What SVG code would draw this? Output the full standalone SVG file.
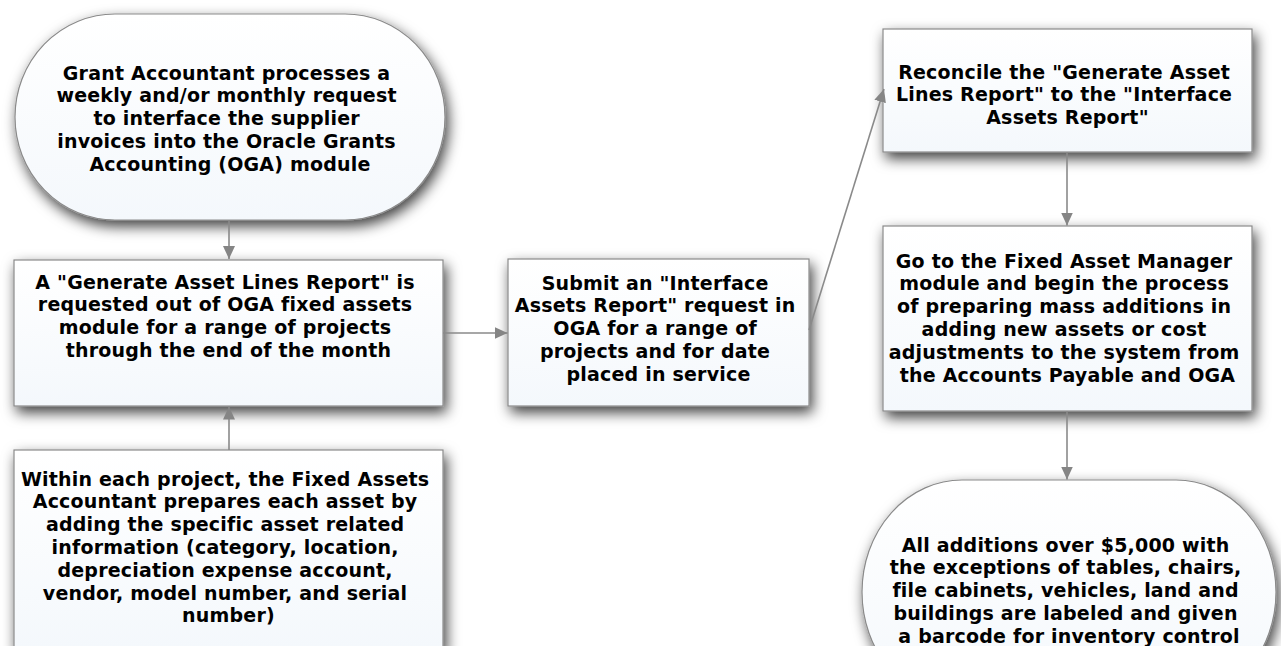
<svg xmlns="http://www.w3.org/2000/svg" width="1281" height="646" viewBox="0 0 1281 646">
  <defs>
    <linearGradient id="fillGrad" x1="0" y1="0" x2="0" y2="1">
      <stop offset="0" stop-color="#ffffff"/>
      <stop offset="1" stop-color="#f4f8fc"/>
    </linearGradient>
    <filter id="shadow" x="-20%" y="-30%" width="145%" height="170%">
      <feDropShadow dx="3" dy="6" stdDeviation="7" flood-color="#000000" flood-opacity="0.75"/>
    </filter>
    <marker id="arrow" markerUnits="userSpaceOnUse" markerWidth="13" markerHeight="12" refX="13" refY="6" orient="auto">
      <path d="M0,0 L13,6 L0,12 z" fill="#858585"/>
    </marker>
    <style>
      .node { fill: url(#fillGrad); stroke: #8a8a8a; stroke-width: 1.2; filter: url(#shadow); }
      .label { font-family: "DejaVu Sans", Verdana, sans-serif; font-weight: bold; font-size: 19px; letter-spacing: 0.2px; fill: #000000; text-anchor: middle; }
      .conn { stroke: #8a8a8a; stroke-width: 1.6; fill: none; marker-end: url(#arrow); }
    </style>
  </defs>

  <g id="node-grant-accountant">
    <rect class="node" x="15" y="14" width="430" height="206" rx="100" ry="103"/>
    <text class="label" x="230" y="79.5">
      <tspan x="230">Grant Accountant processes a</tspan>
      <tspan x="230" dy="22.8">weekly and/or monthly request</tspan>
      <tspan x="230" dy="22.8">to interface the supplier</tspan>
      <tspan x="230" dy="22.8">invoices into the Oracle Grants</tspan>
      <tspan x="230" dy="22.8">Accounting (OGA) module</tspan>
    </text>
  </g>

  <g id="node-generate-report">
    <rect class="node" x="14" y="260" width="429" height="146"/>
    <text class="label" x="228.5" y="288.5">
      <tspan x="228.5">A "Generate Asset Lines Report" is</tspan>
      <tspan x="228.5" dy="22.8">requested out of OGA fixed assets</tspan>
      <tspan x="228.5" dy="22.8">module for a range of projects</tspan>
      <tspan x="228.5" dy="22.8">through the end of the month</tspan>
    </text>
  </g>

  <g id="node-prepare-asset">
    <rect class="node" x="14" y="450" width="429" height="200"/>
    <text class="label" x="228.5" y="485.5">
      <tspan x="228.5">Within each project, the Fixed Assets</tspan>
      <tspan x="228.5" dy="22.8">Accountant prepares each asset by</tspan>
      <tspan x="228.5" dy="22.8">adding the specific asset related</tspan>
      <tspan x="228.5" dy="22.8">information (category, location,</tspan>
      <tspan x="228.5" dy="22.8">depreciation expense account,</tspan>
      <tspan x="228.5" dy="22.8">vendor, model number, and serial</tspan>
      <tspan x="228.5" dy="22.8">number)</tspan>
    </text>
  </g>

  <g id="node-submit-interface">
    <rect class="node" x="508" y="259" width="301" height="147"/>
    <text class="label" x="658.5" y="289.5">
      <tspan x="658.5">Submit an "Interface</tspan>
      <tspan x="658.5" dy="22.8">Assets Report" request in</tspan>
      <tspan x="658.5" dy="22.8">OGA for a range of</tspan>
      <tspan x="658.5" dy="22.8">projects and for date</tspan>
      <tspan x="658.5" dy="22.8">placed in service</tspan>
    </text>
  </g>

  <g id="node-reconcile">
    <rect class="node" x="883" y="29" width="369" height="123"/>
    <text class="label" x="1067.5" y="78.5">
      <tspan x="1067.5">Reconcile the "Generate Asset</tspan>
      <tspan x="1067.5" dy="22.8">Lines Report" to the "Interface</tspan>
      <tspan x="1067.5" dy="22.8">Assets Report"</tspan>
    </text>
  </g>

  <g id="node-fixed-asset-manager">
    <rect class="node" x="883" y="226" width="369" height="185"/>
    <text class="label" x="1067.5" y="267.5">
      <tspan x="1067.5">Go to the Fixed Asset Manager</tspan>
      <tspan x="1067.5" dy="22.8">module and begin the process</tspan>
      <tspan x="1067.5" dy="22.8">of preparing mass additions in</tspan>
      <tspan x="1067.5" dy="22.8">adding new assets or cost</tspan>
      <tspan x="1067.5" dy="22.8">adjustments to the system from</tspan>
      <tspan x="1067.5" dy="22.8">the Accounts Payable and OGA</tspan>
    </text>
  </g>

  <g id="node-additions">
    <rect class="node" x="862" y="480" width="414" height="224" rx="100" ry="112"/>
    <text class="label" x="1069" y="551.5">
      <tspan x="1069">All additions over $5,000 with</tspan>
      <tspan x="1069" dy="22.8">the exceptions of tables, chairs,</tspan>
      <tspan x="1069" dy="22.8">file cabinets, vehicles, land and</tspan>
      <tspan x="1069" dy="22.8">buildings are labeled and given</tspan>
      <tspan x="1069" dy="22.8">a barcode for inventory control</tspan>
    </text>
  </g>

  <g id="connectors">
    <line class="conn" x1="229" y1="220" x2="229" y2="259"/>
    <line class="conn" x1="229" y1="450" x2="229" y2="406.5"/>
    <line class="conn" x1="443" y1="333" x2="507.5" y2="333"/>
    <line class="conn" x1="809" y1="330" x2="884" y2="89"/>
    <line class="conn" x1="1067" y1="152" x2="1067" y2="225.5"/>
    <line class="conn" x1="1067" y1="411" x2="1067" y2="479.5"/>
  </g>
</svg>
